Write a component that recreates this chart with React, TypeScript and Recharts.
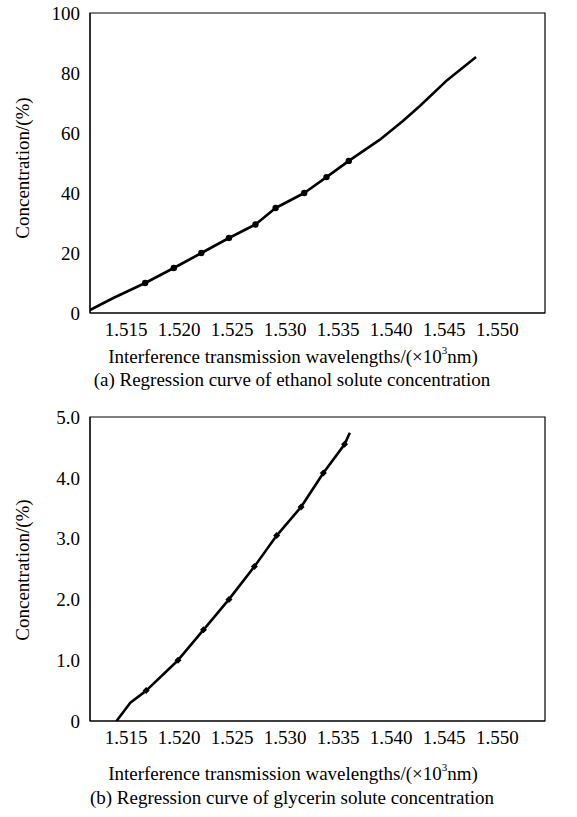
import React from 'react';
import {
  ComposedChart,
  Line,
  Scatter,
  XAxis,
  YAxis,
  ReferenceArea,
  Label,
} from 'recharts';

// shared x axis
const xTicks = [1.515, 1.52, 1.525, 1.53, 1.535, 1.54, 1.545, 1.55];
const xMin = 1.5116;
const xMax = 1.5545;

// (a) ethanol
const ethanolCurveX = [1.5116, 1.5138, 1.5168, 1.5195, 1.5221, 1.5247, 1.5272, 1.5291, 1.5318, 1.5339, 1.536, 1.5389, 1.5411, 1.5427, 1.5453, 1.548];
const ethanolCurveY = [1, 5, 10, 15, 20, 25, 29.5, 35, 40, 45.3, 50.7, 57.7, 64, 69, 77.7, 85.3];
const ethanolDotX = [1.5168, 1.5195, 1.5221, 1.5247, 1.5272, 1.5291, 1.5318, 1.5339, 1.536];
const ethanolDotY = [10, 15, 20, 25, 29.5, 35, 40, 45.3, 50.7];
const ethanolTicks = [0, 20, 40, 60, 80, 100];

// (b) glycerin
const glycerinCurveX = [1.5141, 1.5154, 1.5169, 1.5199, 1.5223, 1.5247, 1.5271, 1.5292, 1.5315, 1.5336, 1.5356, 1.5361];
const glycerinCurveY = [0, 0.3, 0.5, 1.0, 1.5, 2.0, 2.54, 3.05, 3.52, 4.08, 4.55, 4.74];
const glycerinDotX = [1.5169, 1.5199, 1.5223, 1.5247, 1.5271, 1.5292, 1.5315, 1.5336, 1.5356];
const glycerinDotY = [0.5, 1.0, 1.5, 2.0, 2.54, 3.05, 3.52, 4.08, 4.55];
const glycerinTicks = [0, 1, 2, 3, 4, 5];

const zip = (xs: number[], ys: number[]) => xs.map((x, i) => ({ x, y: ys[i] }));

const FONT = '"Liberation Serif", "Times New Roman", serif';
const FS = 19;
const tickStyle = { fill: '#000', fontSize: FS, fontFamily: FONT };

const YTitle = (cy: number) => () => (
  <text
    x={22}
    y={cy}
    transform={`rotate(-90 22 ${cy})`}
    textAnchor="middle"
    dominantBaseline="central"
    fontFamily={FONT}
    fontSize={FS}
    fill="#000"
  >
    Concentration/(%)
  </text>
);

const XTitle = (cy: number) => () => (
  <text x={293} y={cy} textAnchor="middle" dominantBaseline="central" fontFamily={FONT} fontSize={FS} fill="#000">
    Interference transmission wavelengths/(×10
    <tspan fontSize={11} dy={-6}>3</tspan>
    <tspan dy={6}>nm)</tspan>
  </text>
);

const circleDot = (p: any) => <circle cx={p.cx} cy={p.cy} r={3.2} fill="#000" />;
const diamondDot = (p: any) => (
  <path d={`M${p.cx},${p.cy - 3.5}L${p.cx + 3.5},${p.cy}L${p.cx},${p.cy + 3.5}L${p.cx - 3.5},${p.cy}Z`} fill="#000" />
);

interface PanelProps {
  curve: { x: number; y: number }[];
  dots: { x: number; y: number }[];
  yTicks: number[];
  yFmt: (v: number) => string;
  height: number;
  marginTop: number;
  marginBottom: number;
  yTitleY: number;
  xTitleY: number;
  dotShape: (p: any) => React.ReactElement;
}

function Panel({ curve, dots, yTicks, yFmt, height, marginTop, marginBottom, yTitleY, xTitleY, dotShape }: PanelProps) {
  const yMax = yTicks[yTicks.length - 1];
  return (
    <ComposedChart width={577} height={height} margin={{ top: marginTop, right: 32, bottom: marginBottom, left: 30 }}>
      <XAxis
        dataKey="x"
        type="number"
        domain={[xMin, xMax]}
        ticks={xTicks}
        allowDataOverflow
        tickFormatter={(v: number) => v.toFixed(3)}
        tickLine={false}
        tickMargin={4}
        axisLine={{ stroke: '#000' }}
        tick={tickStyle}
        height={30}
      >
        <Label content={XTitle(xTitleY)} />
      </XAxis>
      <YAxis
        dataKey="y"
        type="number"
        domain={[0, yMax]}
        ticks={yTicks}
        allowDataOverflow
        tickFormatter={yFmt}
        tickLine={false}
        tickMargin={4}
        axisLine={{ stroke: '#000' }}
        tick={tickStyle}
        width={60}
      >
        <Label content={YTitle(yTitleY)} />
      </YAxis>
      <ReferenceArea x1={xMin} x2={xMax} y1={0} y2={yMax} fill="none" stroke="#000" strokeWidth={1.2} />
      <Line
        data={curve}
        dataKey="y"
        type="linear"
        stroke="#000"
        strokeWidth={2.6}
        strokeLinejoin="round"
        dot={false}
        isAnimationActive={false}
      />
      <Scatter data={dots} dataKey="y" shape={dotShape} isAnimationActive={false} />
    </ComposedChart>
  );
}

const captionStyle: React.CSSProperties = {
  position: 'absolute',
  left: 0,
  width: 584,
  textAlign: 'center',
  fontFamily: FONT,
  fontSize: FS,
  color: '#000',
  lineHeight: '20px',
};

export default function App() {
  return (
    <div style={{ position: 'absolute', left: 0, top: 0, width: 577, height: 817, background: '#fff' }}>
      <div style={{ position: 'absolute', left: 0, top: 0 }}>
        <Panel
          curve={zip(ethanolCurveX, ethanolCurveY)}
          dots={zip(ethanolDotX, ethanolDotY)}
          yTicks={ethanolTicks}
          yFmt={(v) => String(v)}
          height={400}
          marginTop={13}
          marginBottom={57}
          yTitleY={168}
          xTitleY={356}
          dotShape={circleDot}
        />
      </div>
      <div style={{ ...captionStyle, top: 370 }}>(a) Regression curve of ethanol solute concentration</div>
      <div style={{ position: 'absolute', left: 0, top: 400 }}>
        <Panel
          curve={zip(glycerinCurveX, glycerinCurveY)}
          dots={zip(glycerinDotX, glycerinDotY)}
          yTicks={glycerinTicks}
          yFmt={(v) => (v === 0 ? '0' : v.toFixed(1))}
          height={417}
          marginTop={17}
          marginBottom={66}
          yTitleY={170}
          xTitleY={373}
          dotShape={diamondDot}
        />
      </div>
      <div style={{ ...captionStyle, top: 788 }}>(b) Regression curve of glycerin solute concentration</div>
    </div>
  );
}
